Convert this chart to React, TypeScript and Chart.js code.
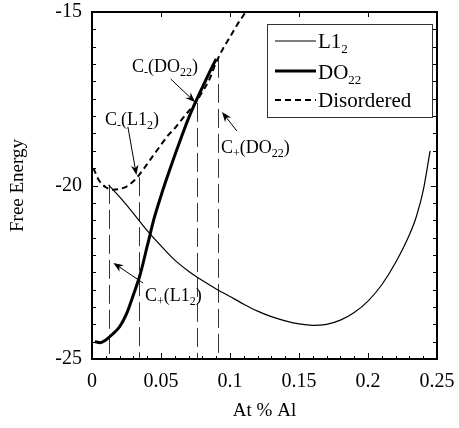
import React, { useEffect, useRef } from 'react';
import { Chart, registerables } from 'chart.js';

Chart.register(...registerables);

const FONT = 'Liberation Serif';

// ---- data ----
const l12X = [0.012, 0.02, 0.03, 0.04, 0.05, 0.06, 0.07, 0.08, 0.09, 0.1, 0.11, 0.12, 0.13, 0.14, 0.15, 0.16, 0.17, 0.18, 0.19, 0.2, 0.21, 0.22, 0.23, 0.235, 0.24, 0.245];
const l12Y = [-19.98, -20.33, -20.8, -21.3, -21.74, -22.15, -22.47, -22.74, -22.98, -23.2, -23.42, -23.62, -23.78, -23.9, -23.99, -24.03, -24.0, -23.88, -23.66, -23.33, -22.86, -22.22, -21.42, -20.9, -20.15, -19.0];

const do22X = [0.002, 0.006, 0.01, 0.015, 0.02, 0.025, 0.03, 0.035, 0.04, 0.045, 0.05, 0.055, 0.06, 0.065, 0.07, 0.075, 0.08, 0.085, 0.09];
const do22Y = [-24.5, -24.53, -24.45, -24.28, -24.07, -23.7, -23.15, -22.55, -21.75, -20.95, -20.3, -19.7, -19.13, -18.58, -18.06, -17.6, -17.17, -16.75, -16.35];

const disX = [0.001, 0.005, 0.01, 0.015, 0.02, 0.025, 0.03, 0.035, 0.04, 0.045, 0.05, 0.055, 0.06, 0.065, 0.07, 0.075, 0.08, 0.085, 0.09, 0.095, 0.1, 0.105, 0.11, 0.113];
const disY = [-19.5, -19.85, -20.05, -20.12, -20.1, -20.03, -19.88, -19.65, -19.38, -19.1, -18.83, -18.56, -18.35, -18.1, -17.86, -17.62, -17.3, -16.95, -16.45, -16.05, -15.72, -15.38, -15.08, -14.9];

const xTickValues = [0, 0.05, 0.1, 0.15, 0.2, 0.25];
const xTickLabels = ['0', '0.05', '0.1', '0.15', '0.2', '0.25'];
const yTickValues = [-25, -20, -15];
const yTickLabels = ['-25', '-20', '-15'];

// vertical guide lines (x, top y)
const guideX = [0.012, 0.034, 0.076, 0.091];
const guideTopY = [-19.98, -19.76, -17.62, -16.35];

// annotation labels: parts [text, isSubscript]
const annotParts: [string, boolean][][] = [
  [['C', false], ['-', true], ['(DO', false], ['22', true], [')', false]],
  [['C', false], ['-', true], ['(L1', false], ['2', true], [')', false]],
  [['C', false], ['+', true], ['(DO', false], ['22', true], [')', false]],
  [['C', false], ['+', true], ['(L1', false], ['2', true], [')', false]],
];
const annotTextX = [0.029, 0.0094, 0.0935, 0.0384];
const annotTextY = [-16.73, -18.26, -19.06, -23.33];
const arrowFromX = [0.057, 0.026, 0.105, 0.037];
const arrowFromY = [-16.93, -18.31, -18.43, -22.81];
const arrowToX = [0.0748, 0.0322, 0.0942, 0.0155];
const arrowToY = [-17.6, -19.7, -17.88, -22.23];

const legendParts: [string, boolean][][] = [
  [['L1', false], ['2', true]],
  [['DO', false], ['22', true]],
  [['Disordered', false]],
];

function drawRich(ctx: CanvasRenderingContext2D, x: number, y: number, parts: [string, boolean][], size: number, subSize: number, subDy: number) {
  let cx = x;
  for (const [t, sub] of parts) {
    ctx.font = `${sub ? subSize : size}px "${FONT}"`;
    ctx.fillText(t, cx, sub ? y + subDy : y);
    cx += ctx.measureText(t).width;
  }
}

function drawArrow(ctx: CanvasRenderingContext2D, x1: number, y1: number, x2: number, y2: number) {
  const ang = Math.atan2(y2 - y1, x2 - x1);
  const c = Math.cos(ang), s = Math.sin(ang);
  const L = 10, W = 3.8;
  ctx.beginPath();
  ctx.moveTo(x1, y1);
  ctx.lineTo(x2 - c * L * 0.6, y2 - s * L * 0.6);
  ctx.stroke();
  const bx = x2 - c * L, by = y2 - s * L;
  ctx.beginPath();
  ctx.moveTo(x2, y2);
  ctx.lineTo(bx - s * W, by + c * W);
  ctx.lineTo(x2 - c * L * 0.7, y2 - s * L * 0.7);
  ctx.lineTo(bx + s * W, by - c * W);
  ctx.closePath();
  ctx.fill();
}

const guidesPlugin = {
  id: 'guides',
  beforeDatasetsDraw(chart: any) {
    const { ctx, scales } = chart;
    const xs = scales.x, ys = scales.y;
    ctx.save();
    ctx.strokeStyle = 'rgba(0,0,0,0.8)';
    ctx.lineWidth = 1;
    ctx.setLineDash([19, 6]);
    for (let i = 0; i < guideX.length; i++) {
      const px = Math.round(xs.getPixelForValue(guideX[i])) + 0.5;
      ctx.beginPath();
      ctx.moveTo(px, ys.getPixelForValue(guideTopY[i]));
      ctx.lineTo(px, ys.getPixelForValue(-25));
      ctx.stroke();
    }
    ctx.restore();
  },
};

const decorPlugin = {
  id: 'decor',
  afterDraw(chart: any) {
    const { ctx, scales, chartArea } = chart;
    const xs = scales.x, ys = scales.y;
    const { left, right, top, bottom } = chartArea;
    ctx.save();
    ctx.setLineDash([]);
    ctx.strokeStyle = '#000';
    ctx.fillStyle = '#000';

    // ticks
    ctx.lineWidth = 1;
    ctx.beginPath();
    for (let k = 0; k <= 25; k++) {
      const v = k / 100;
      const px = Math.round(xs.getPixelForValue(v)) + 0.5;
      const major = k % 5 === 0;
      ctx.moveTo(px, bottom);
      ctx.lineTo(px, bottom - (major ? 6 : 3));
      if (major) {
        ctx.moveTo(px, top);
        ctx.lineTo(px, top + 5);
      }
    }
    for (let k = 0; k <= 20; k++) {
      const v = -25 + k * 0.5;
      const py = Math.round(ys.getPixelForValue(v)) + 0.5;
      const major = k % 10 === 0;
      const len = major ? 6 : 4;
      ctx.moveTo(left, py);
      ctx.lineTo(left + len, py);
      ctx.moveTo(right, py);
      ctx.lineTo(right - len, py);
    }
    ctx.stroke();

    // frame
    ctx.lineWidth = 2;
    ctx.strokeRect(left, top, right - left, bottom - top);

    // annotations
    ctx.lineWidth = 1;
    ctx.textAlign = 'left';
    ctx.textBaseline = 'alphabetic';
    for (let i = 0; i < annotParts.length; i++) {
      drawRich(ctx, xs.getPixelForValue(annotTextX[i]), ys.getPixelForValue(annotTextY[i]), annotParts[i], 18, 12, 4);
      drawArrow(ctx, xs.getPixelForValue(arrowFromX[i]), ys.getPixelForValue(arrowFromY[i]), xs.getPixelForValue(arrowToX[i]), ys.getPixelForValue(arrowToY[i]));
    }

    // legend
    const bRight = right - 5;
    const bLeft = bRight - 165;
    const bTop = top + 12;
    const bH = 93;
    ctx.lineWidth = 1;
    ctx.strokeStyle = '#333';
    ctx.strokeRect(Math.round(bLeft) + 0.5, Math.round(bTop) + 0.5, 165, bH);
    const lineYs = [17, 47, 76];
    const baseYs = [24, 55, 83];
    chart.data.datasets.forEach((ds: any, i: number) => {
      ctx.save();
      ctx.strokeStyle = ds.borderColor;
      ctx.lineWidth = ds.borderWidth;
      ctx.setLineDash(ds.borderDash || []);
      ctx.beginPath();
      ctx.moveTo(bLeft + 8, bTop + lineYs[i]);
      ctx.lineTo(bLeft + 49, bTop + lineYs[i]);
      ctx.stroke();
      ctx.restore();
      drawRich(ctx, bLeft + 51, bTop + baseYs[i], legendParts[i], 21, 13, 5);
    });
    ctx.restore();
  },
};

export default function App() {
  const ref = useRef<HTMLCanvasElement | null>(null);
  useEffect(() => {
    if (!ref.current) return;
    const toPts = (xs: number[], ys: number[]) => xs.map((x, i) => ({ x, y: ys[i] }));
    const tickFont = { family: FONT, size: 20 };
    const chart = new Chart(ref.current, {
      type: 'scatter',
      data: {
        datasets: [
          { label: 'L12', data: toPts(l12X, l12Y), showLine: true, borderColor: '#000', borderWidth: 1.2, pointRadius: 0, cubicInterpolationMode: 'monotone', fill: false },
          { label: 'DO22', data: toPts(do22X, do22Y), showLine: true, borderColor: '#000', borderWidth: 3, pointRadius: 0, cubicInterpolationMode: 'monotone', fill: false },
          { label: 'Disordered', data: toPts(disX, disY), showLine: true, borderColor: '#000', borderWidth: 2, borderDash: [6, 4], pointRadius: 0, cubicInterpolationMode: 'monotone', fill: false },
        ],
      },
      options: {
        responsive: false,
        animation: false,
        devicePixelRatio: 1,
        layout: { padding: { top: 12, right: 22, left: 0, bottom: 0 } },
        plugins: { legend: { display: false }, tooltip: { enabled: false } },
        scales: {
          x: {
            type: 'linear',
            min: 0,
            max: 0.25,
            afterBuildTicks: (s: any) => { s.ticks = xTickValues.map((v) => ({ value: v })); },
            afterFit: (s: any) => { s.height = 69; s.paddingLeft = 0; s.paddingRight = 0; },
            grid: { display: false, drawTicks: false },
            border: { display: false },
            ticks: { padding: 11, color: '#000', font: tickFont, maxRotation: 0, autoSkip: false, callback: (_v: any, i: number) => xTickLabels[i] },
            title: { display: true, text: 'At % Al', color: '#000', font: { family: FONT, size: 19 }, padding: { top: 0, bottom: 6 } },
          },
          y: {
            type: 'linear',
            min: -25,
            max: -15,
            afterBuildTicks: (s: any) => { s.ticks = yTickValues.map((v) => ({ value: v })); },
            afterFit: (s: any) => { s.width = 92; s.paddingTop = 0; s.paddingBottom = 0; },
            grid: { display: false, drawTicks: false },
            border: { display: false },
            ticks: { padding: 10, color: '#000', font: tickFont, autoSkip: false, callback: (_v: any, i: number) => yTickLabels[i] },
            title: { display: true, text: 'Free Energy', color: '#000', font: { family: FONT, size: 19 }, padding: { top: 7, bottom: 0 } },
          },
        },
      },
      plugins: [guidesPlugin, decorPlugin],
    } as any);
    return () => chart.destroy();
  }, []);
  return (
    <div style={{ position: 'absolute', left: 0, top: 0, width: 459, height: 428, background: '#fff' }}>
      <canvas ref={ref} width={459} height={428} style={{ width: 459, height: 428, display: 'block' }} />
    </div>
  );
}
